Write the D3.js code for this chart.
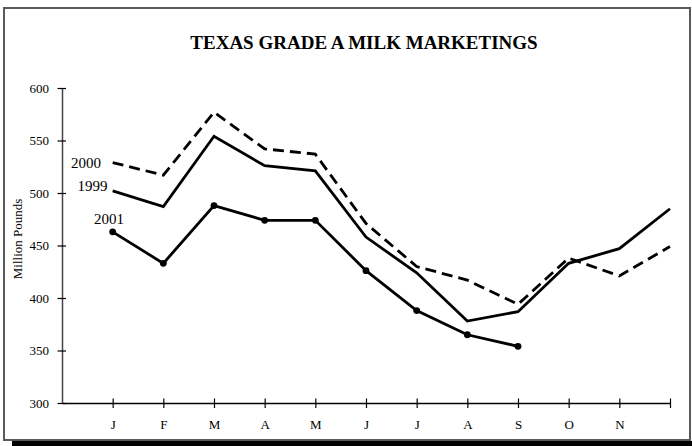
<!DOCTYPE html>
<html><head><meta charset="utf-8">
<script src="https://cdn.jsdelivr.net/npm/d3@7"></script>
<style>body{margin:0;background:#fff}svg{display:block}text{font-family:"Liberation Serif","Times New Roman",serif;fill:#000}</style>
</head><body>
<script>
const months = ["J","F","M","A","M","J","J","A","S","O","N",""];
const yTicks = [300,350,400,450,500,550,600];
const v1999 = [502,487,554,526,521,458,424,378,387,433,447,485];
const v2000 = [529,517,577,542,537,471,430,417,394,438,421,449];
const v2001 = [463,433,488,474,474,426,388,365,354];
const seriesLabels = ["2000","1999","2001"];

const W=692,H=446;
const svg=d3.select("body").append("svg").attr("width",W).attr("height",H);

// frame + shadow
svg.append("rect").attr("x",12).attr("y",441).attr("width",680).attr("height",6).attr("fill","#000");
svg.append("rect").attr("x",4).attr("y",8).attr("width",686).attr("height",432)
  .attr("fill","#fff").attr("stroke","#5a5a5a").attr("stroke-width",2);

svg.append("text").attr("x",364).attr("y",49).attr("text-anchor","middle")
  .style("font-size","19px").style("font-weight","bold").text("TEXAS GRADE A MILK MARKETINGS");

const x=d3.scaleLinear().domain([0,12]).range([62,670]);
const y=d3.scaleLinear().domain([300,600]).range([403,88]);

// y axis
const ya=svg.append("g").attr("transform","translate(62,0)")
  .call(d3.axisLeft(y).tickValues(yTicks).tickSize(0).tickPadding(13).tickFormat(d3.format("d")));
ya.select(".domain").attr("stroke","#444").attr("stroke-width",1.5);
ya.selectAll(".tick text").style("font-size","13px").style("font-family","Liberation Serif");
ya.selectAll(".tick").append("line").attr("x1",-4.5).attr("x2",4).attr("stroke","#000").attr("stroke-width",1.2);

// x axis
const xa=svg.append("g").attr("transform","translate(0,403)")
  .call(d3.axisBottom(x).tickValues(d3.range(1,13)).tickSize(0).tickPadding(17).tickFormat(d=>months[d-1]));
xa.select(".domain").attr("stroke","#000").attr("stroke-width",1.5);
xa.selectAll(".tick text").style("font-size","13px").style("font-family","Liberation Serif");
xa.selectAll(".tick").append("line").attr("y1",-4.5).attr("y2",5).attr("stroke","#000").attr("stroke-width",1.2);

svg.append("text").attr("transform","translate(22,239) rotate(-90)").attr("text-anchor","middle")
  .style("font-size","13px").text("Million Pounds");

const line=d3.line().x((d,i)=>x(i+1)).y(d=>y(d));
svg.append("path").datum(v2000).attr("d",line).attr("fill","none").attr("stroke","#000")
  .attr("stroke-width",2.8).attr("stroke-dasharray","11,6").attr("stroke-linejoin","miter");
svg.append("path").datum(v1999).attr("d",line).attr("fill","none").attr("stroke","#000")
  .attr("stroke-width",2.8).attr("stroke-linejoin","miter");
svg.append("path").datum(v2001).attr("d",line).attr("fill","none").attr("stroke","#000")
  .attr("stroke-width",2.8).attr("stroke-linejoin","miter");
svg.selectAll("circle.p").data(v2001).enter().append("circle")
  .attr("cx",(d,i)=>x(i+1)).attr("cy",d=>y(d)).attr("r",3.4).attr("fill","#000");

const labelPos=[{x:86,y:168},{x:92.5,y:191},{x:109,y:224}];
seriesLabels.forEach((t,i)=>{
  svg.append("text").attr("x",labelPos[i].x).attr("y",labelPos[i].y).attr("text-anchor","middle")
    .style("font-size","15px").text(t);
});
</script>
</body></html>
